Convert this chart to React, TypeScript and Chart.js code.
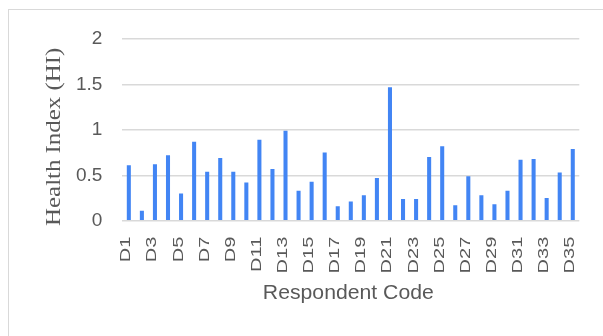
import { useEffect, useRef } from "react";
import { Chart, registerables } from "chart.js";

Chart.register(...registerables);

const respondentCodes = [
  "D1", "D2", "D3", "D4", "D5", "D6", "D7", "D8", "D9", "D10",
  "D11", "D12", "D13", "D14", "D15", "D16", "D17", "D18", "D19", "D20",
  "D21", "D22", "D23", "D24", "D25", "D26", "D27", "D28", "D29", "D30",
  "D31", "D32", "D33", "D34", "D35",
];

const healthIndex = [
  0.61, 0.11, 0.62, 0.72, 0.30, 0.87, 0.54, 0.69, 0.54, 0.42,
  0.89, 0.57, 0.99, 0.33, 0.43, 0.75, 0.16, 0.21, 0.28, 0.47,
  1.47, 0.24, 0.24, 0.70, 0.82, 0.17, 0.49, 0.28, 0.18, 0.33,
  0.67, 0.68, 0.25, 0.53, 0.79,
];

const yTicks = [0, 0.5, 1, 1.5, 2];
const yTickLabels = ["0", "0.5", "1", "1.5", "2"];

const xTitle = "Respondent Code";
const yTitle = "Health Index (HI)";

const BAR = "#4285F4";
const GRID = "#d9d9d9";
const TEXT = "#595959";
const SANS = "'Liberation Sans', Arial, sans-serif";
const SERIF = "'Liberation Serif', 'Times New Roman', serif";

// Axis texts drawn by hand so the narrow, tall lettering can be reproduced.
const axisText = {
  id: "axisText",
  afterDraw(chart: any) {
    const { ctx, chartArea } = chart;
    const x = chart.scales.x;
    ctx.save();
    ctx.fillStyle = TEXT;

    // category labels, every second code, rotated bottom-to-top
    ctx.font = `20px ${SANS}`;
    ctx.textAlign = "right";
    ctx.textBaseline = "middle";
    respondentCodes.forEach((code, i) => {
      if (i % 2) return;
      ctx.save();
      ctx.translate(x.getPixelForValue(i) - 2.5, x.top + 16);
      ctx.rotate(-Math.PI / 2);
      ctx.scale(1, 0.72);
      ctx.fillText(code, 0, 0);
      ctx.restore();
    });

    // x axis title
    ctx.save();
    ctx.font = `20px ${SANS}`;
    ctx.textAlign = "center";
    ctx.textBaseline = "middle";
    ctx.translate((chartArea.left + chartArea.right) / 2 - 2.5, x.top + 73);
    ctx.scale(1.06, 1);
    ctx.fillText(xTitle, 0, 0);
    ctx.restore();

    // y axis title
    ctx.save();
    ctx.font = `22px ${SERIF}`;
    ctx.textAlign = "center";
    ctx.textBaseline = "middle";
    ctx.translate(54, (chartArea.top + chartArea.bottom) / 2 + 7);
    ctx.rotate(-Math.PI / 2);
    ctx.scale(1.13, 1);
    ctx.fillText(yTitle, 0, 0);
    ctx.restore();

    ctx.restore();
  },
};

export default function App() {
  const canvasRef = useRef<HTMLCanvasElement | null>(null);

  useEffect(() => {
    if (!canvasRef.current) return;
    const chart = new Chart(canvasRef.current, {
      type: "bar",
      data: {
        labels: respondentCodes,
        datasets: [
          {
            data: healthIndex,
            backgroundColor: BAR,
            borderWidth: 0,
            categoryPercentage: 1,
            barPercentage: 0.31,
          },
        ],
      },
      options: {
        animation: false,
        responsive: false,
        devicePixelRatio: 1,
        layout: { padding: { top: 39, right: 23.7, left: 0, bottom: 0 } },
        plugins: {
          legend: { display: false },
          tooltip: { enabled: false },
        },
        scales: {
          x: {
            grid: { display: false },
            border: { display: false },
            ticks: { display: false },
            afterFit(scale: any) {
              scale.height = 115.3;
            },
          },
          y: {
            min: 0,
            max: 2,
            afterBuildTicks(scale: any) {
              scale.ticks = yTicks.map((v) => ({ value: v }));
            },
            ticks: {
              padding: 20,
              color: TEXT,
              font: { family: SANS, size: 19 },
              callback: (value: any) => {
                const i = yTicks.indexOf(Number(value));
                return i >= 0 ? yTickLabels[i] : "";
              },
            },
            grid: { color: GRID, lineWidth: 1.5, drawTicks: false },
            border: { display: false },
            afterFit(scale: any) {
              scale.width = 122.3;
            },
          },
        },
      },
      plugins: [axisText],
    });
    return () => chart.destroy();
  }, []);

  return (
    <div>
      <div
        style={{
          position: "absolute",
          left: 8,
          top: 9,
          width: 595,
          height: 327,
          boxSizing: "border-box",
          borderLeft: `1px solid ${GRID}`,
          borderTop: `1px solid ${GRID}`,
        }}
      />
      <canvas
        ref={canvasRef}
        width={603}
        height={336}
        style={{ position: "absolute", left: 0, top: 0, width: 603, height: 336 }}
      />
    </div>
  );
}
